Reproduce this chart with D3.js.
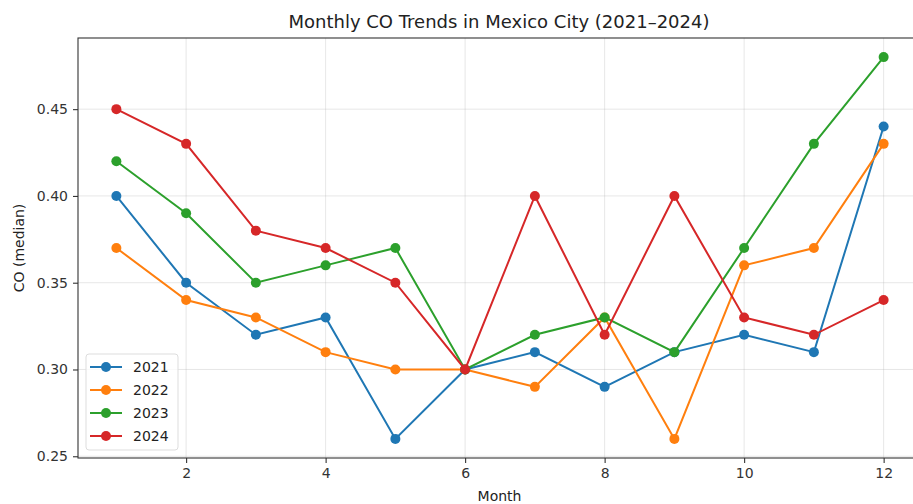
<!DOCTYPE html>
<html>
<head>
<meta charset="utf-8">
<script src="https://cdn.jsdelivr.net/npm/d3@7"></script>
<style>
  html, body { margin: 0; padding: 0; background: #fff; }
  svg { display: block; font-family: "DejaVu Sans", sans-serif; }
</style>
</head>
<body>
<svg id="chart" width="913" height="504"></svg>
<script>
// Monthly median CO readings, one array per year
const months = [1, 2, 3, 4, 5, 6, 7, 8, 9, 10, 11, 12];
const years = ["2021", "2022", "2023", "2024"];
const co2021 = [0.40, 0.35, 0.32, 0.33, 0.26, 0.30, 0.31, 0.29, 0.31, 0.32, 0.31, 0.44];
const co2022 = [0.37, 0.34, 0.33, 0.31, 0.30, 0.30, 0.29, 0.33, 0.26, 0.36, 0.37, 0.43];
const co2023 = [0.42, 0.39, 0.35, 0.36, 0.37, 0.30, 0.32, 0.33, 0.31, 0.37, 0.43, 0.48];
const co2024 = [0.45, 0.43, 0.38, 0.37, 0.35, 0.30, 0.40, 0.32, 0.40, 0.33, 0.32, 0.34];
const xTicks = [2, 4, 6, 8, 10, 12];
const yTicks = [0.25, 0.30, 0.35, 0.40, 0.45];
const colors = ["#1f77b4", "#ff7f0e", "#2ca02c", "#d62728"];

const series = [co2021, co2022, co2023, co2024].map((vals, i) => ({
  name: years[i], color: colors[i],
  points: months.map((m, j) => ({ m, v: vals[j] }))
}));

const svg = d3.select("#chart");
const plot = { left: 78, top: 38, right: 922, bottom: 458 };

const x = d3.scaleLinear().domain([0.45, 12.55]).range([plot.left, plot.right]);
const allVals = [].concat(co2021, co2022, co2023, co2024);
const [vmin, vmax] = d3.extent(allVals);
const pad = (vmax - vmin) * 0.05;
const y = d3.scaleLinear().domain([vmin - pad, vmax + pad]).range([plot.bottom, plot.top]);

// grid
const grid = svg.append("g");
grid.selectAll("line.gx").data(xTicks).join("line")
  .attr("x1", d => x(d)).attr("x2", d => x(d))
  .attr("y1", plot.top).attr("y2", plot.bottom)
  .attr("stroke", "#b0b0b0").attr("stroke-opacity", 0.3).attr("stroke-width", 1);
grid.selectAll("line.gy").data(yTicks).join("line")
  .attr("x1", plot.left).attr("x2", plot.right)
  .attr("y1", d => y(d)).attr("y2", d => y(d))
  .attr("stroke", "#b0b0b0").attr("stroke-opacity", 0.3).attr("stroke-width", 1);

// axes
const xAxis = svg.append("g").attr("transform", `translate(0,${plot.bottom})`)
  .call(d3.axisBottom(x).tickValues(xTicks).tickFormat(d3.format("d")).tickSize(5).tickPadding(5));
const yAxis = svg.append("g").attr("transform", `translate(${plot.left},0)`)
  .call(d3.axisLeft(y).tickValues(yTicks).tickFormat(d3.format(".2f")).tickSize(5).tickPadding(5));
[xAxis, yAxis].forEach(a => {
  a.select(".domain").remove();
  a.selectAll(".tick line").attr("stroke", "#333").attr("stroke-width", 1.1);
  a.selectAll(".tick text").attr("fill", "#333").style("font-size", "14px").style("font-family", "DejaVu Sans");
});

// spines
svg.append("rect")
  .attr("x", plot.left).attr("y", plot.top)
  .attr("width", plot.right - plot.left).attr("height", plot.bottom - plot.top)
  .attr("fill", "none").attr("stroke", "#333").attr("stroke-width", 1.1);

// lines and markers
const line = d3.line().x(d => x(d.m)).y(d => y(d.v));
const lines = svg.append("g");
series.forEach(s => {
  lines.append("path").datum(s.points)
    .attr("d", line).attr("fill", "none")
    .attr("stroke", s.color).attr("stroke-width", 2);
  lines.selectAll(null).data(s.points).join("circle")
    .attr("cx", d => x(d.m)).attr("cy", d => y(d.v)).attr("r", 5)
    .attr("fill", s.color);
});

// title and axis labels
svg.append("text").attr("x", 499).attr("y", 28).attr("text-anchor", "middle")
  .style("font-size", "18px").attr("fill", "#222")
  .text("Monthly CO Trends in Mexico City (2021–2024)");
svg.append("text").attr("x", (plot.left + plot.right) / 2 - 0.5).attr("y", 501).attr("text-anchor", "middle")
  .style("font-size", "14px").attr("fill", "#222").text("Month");
svg.append("text").attr("transform", `translate(24,${(plot.top + plot.bottom) / 2}) rotate(-90)`)
  .attr("text-anchor", "middle").style("font-size", "14px").attr("fill", "#222").text("CO (median)");

// legend
const lg = svg.append("g").attr("transform", "translate(86,354)");
lg.append("rect").attr("width", 92).attr("height", 96).attr("rx", 3)
  .attr("fill", "#fff").attr("fill-opacity", 0.8).attr("stroke", "#ddd");
series.forEach((s, i) => {
  const yy = 13 + i * 23;
  lg.append("line").attr("x1", 4).attr("x2", 36).attr("y1", yy).attr("y2", yy)
    .attr("stroke", s.color).attr("stroke-width", 2);
  lg.append("circle").attr("cx", 20).attr("cy", yy).attr("r", 5).attr("fill", s.color);
  lg.append("text").attr("x", 47).attr("y", yy + 5).style("font-size", "14px")
    .attr("fill", "#222").text(s.name);
});
</script>
</body>
</html>
